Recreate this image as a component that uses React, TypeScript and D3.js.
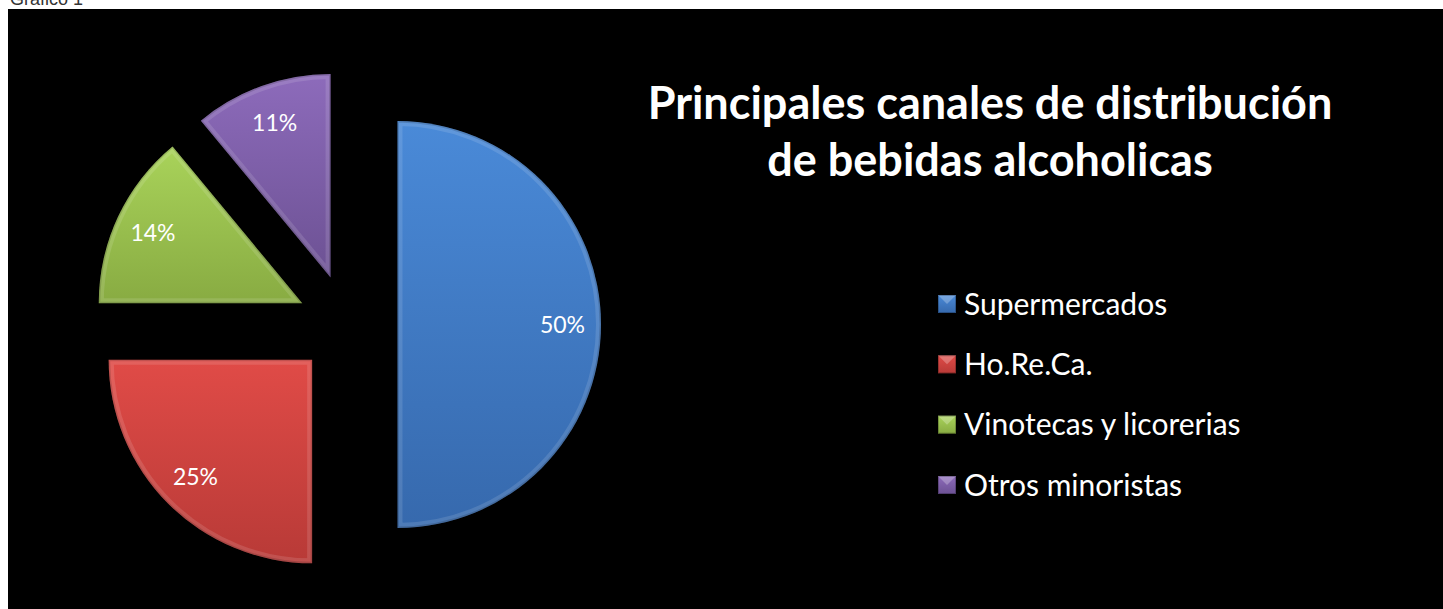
import React from 'react';
import * as d3 from 'd3';

const categories = ['Supermercados', 'Ho.Re.Ca.', 'Vinotecas y licorerias', 'Otros minoristas'];
const values = [50, 25, 14, 11];
const colorsTop = ['#4a8ad8', '#e04b47', '#a9d35a', '#8d6bbb'];
const colorsBottom = ['#3669ad', '#b83a37', '#88ab42', '#6c5193'];
const titleLines = ['Principales canales de distribución', 'de bebidas alcoholicas'];

const W = 1443;
const H = 609;

const App = () => {
  // Pie geometry
  const cx = 347.5;
  const cy = 324.5;
  const radius = 203.5;
  const explode = 50;
  const labelR = 165;

  const pie = d3.pie<number>().sort(null).value((d) => d);
  const arcs = pie(values);
  const arc = d3.arc<d3.PieArcDatum<number>>().innerRadius(0).outerRadius(radius);
  const labelArc = d3.arc<d3.PieArcDatum<number>>().innerRadius(labelR).outerRadius(labelR);
  const total = d3.sum(values);

  // Legend rows
  const legendY = d3.scalePoint<string>().domain(categories).range([304, 485]);

  return (
    <svg
      width={W}
      height={H}
      style={{ position: 'absolute', left: 0, top: 0, display: 'block' }}
      fontFamily="Lato, 'Open Sans', sans-serif"
    >
      <defs>
        {arcs.map((a, i) => (
          <linearGradient key={i} id={`grad${i}`} x1="0" y1="0" x2="0" y2="1">
            <stop offset="0%" stopColor={colorsTop[i]} />
            <stop offset="100%" stopColor={colorsBottom[i]} />
          </linearGradient>
        ))}
        {arcs.map((a, i) => (
          <clipPath key={i} id={`clip${i}`}>
            <path d={arc(a) || ''} />
          </clipPath>
        ))}
        {categories.map((c, i) => (
          <linearGradient key={i} id={`lg${i}`} x1="0" y1="0" x2="0" y2="1">
            <stop offset="0%" stopColor={colorsTop[i]} />
            <stop offset="100%" stopColor={colorsBottom[i]} />
          </linearGradient>
        ))}
      </defs>

      <rect x={0} y={0} width={W} height={H} fill="#fff" />
      <text x={10} y={5} fontSize={18} fill="#333" fontFamily="'Liberation Sans', Arial, sans-serif">
        Gráfico 1
      </text>
      <rect x={8} y={9} width={W - 8} height={H - 9} fill="#000" />

      {/* Exploded pie */}
      {arcs.map((a, i) => {
        const mid = (a.startAngle + a.endAngle) / 2;
        const dx = cx + explode * Math.sin(mid);
        const dy = cy - explode * Math.cos(mid);
        const [lx, ly] = labelArc.centroid(a);
        const p = arc(a) || '';
        return (
          <g key={i} transform={`translate(${dx},${dy})`}>
            <path d={p} fill={`url(#grad${i})`} />
            <g clipPath={`url(#clip${i})`}>
              <path d={p} fill="none" stroke="#fff" strokeOpacity={0.12} strokeWidth={10} />
              <path d={p} fill="none" stroke="#000" strokeOpacity={0.15} strokeWidth={3} />
            </g>
            <text
              x={lx}
              y={ly}
              dy="0.36em"
              textAnchor="middle"
              fontSize={23}
              fill="#fff"
            >
              {`${Math.round((values[i] / total) * 100)}%`}
            </text>
          </g>
        );
      })}

      {/* Title */}
      {titleLines.map((t, i) => (
        <text
          key={i}
          x={990}
          y={119 + i * 57}
          textAnchor="middle"
          fontSize={45}
          fontWeight="bold"
          fill="#fff"
        >
          {t}
        </text>
      ))}

      {/* Legend */}
      {categories.map((c, i) => {
        const y = legendY(c) || 0;
        return (
          <g key={c} transform={`translate(938,${y})`}>
            <rect x={0} y={-9} width={18} height={18} fill={`url(#lg${i})`} />
            <path d="M0,-9 L18,-9 L9,0 Z" fill="#fff" fillOpacity={0.25} />
            <rect x={0.5} y={-8.5} width={17} height={17} fill="none" stroke="#000" strokeOpacity={0.25} />
            <text x={26} y={0} dy="0.36em" fontSize={30} fill="#fff">
              {c}
            </text>
          </g>
        );
      })}
    </svg>
  );
};

export default App;
